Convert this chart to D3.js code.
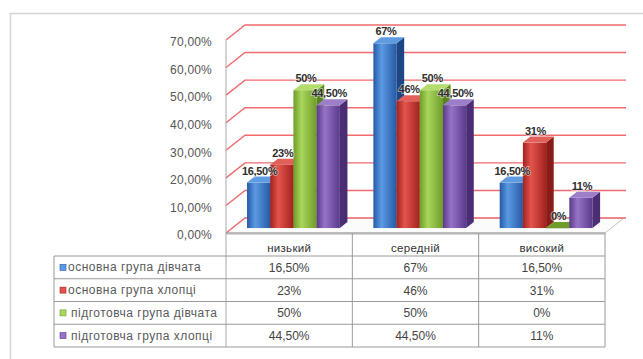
<!DOCTYPE html>
<html>
<head>
<meta charset="utf-8">
<script src="https://cdn.jsdelivr.net/npm/d3@7"></script>
<style>
  html, body { margin: 0; padding: 0; background: #ffffff; }
  svg { display: block; }
  text { font-family: "Liberation Sans", Arial, sans-serif; }
</style>
</head>
<body>
<svg id="chart" width="643" height="359"></svg>
<script>
// Levels of the scale (categories) and the four groups (series)
const categories = ["низький", "середній", "високий"];
const seriesNames = [
  "основна група дівчата",
  "основна група хлопці",
  "підготовча група дівчата",
  "підготовча група хлопці"
];
// percentage per group, in category order
const girlsMain = [16.5, 67, 16.5];
const boysMain  = [23, 46, 31];
const girlsPrep = [50, 50, 0];
const boysPrep  = [44.5, 44.5, 11];
const seriesValues = [girlsMain, boysMain, girlsPrep, boysPrep];
const axisTicks = [0, 10, 20, 30, 40, 50, 60, 70];

// face colours: [front dark, front light, top, side]
const palette = [
  ["#2659a6", "#5b9ae4", "#5f9be0", "#1d4685"],
  ["#a3221e", "#e2544c", "#e2605a", "#8a1c18"],
  ["#6f9c28", "#a9d75c", "#b4dc6c", "#5b8420"],
  ["#5a3a8a", "#9673c6", "#9d7ec8", "#4a2d75"]
];

const svg = d3.select("#chart");
const defs = svg.append("defs");
palette.forEach((c, i) => {
  const g = defs.append("linearGradient").attr("id", "front" + i)
    .attr("x1", "0%").attr("x2", "100%").attr("y1", "0%").attr("y2", "0%");
  g.append("stop").attr("offset", "0%").attr("stop-color", c[0]);
  g.append("stop").attr("offset", "35%").attr("stop-color", c[1]);
  g.append("stop").attr("offset", "100%").attr("stop-color", c[0]);
});

// outer chart frame
svg.append("rect").attr("x", 10.5).attr("y", 13.5).attr("width", 640).attr("height", 352)
  .attr("fill", "#ffffff").attr("stroke", "#d4d4d4").attr("stroke-width", 1.5);

// plot geometry (front plane) and depth vector
const plotLeft = 226, plotRight = 605;
const depthX = 19, depthY = -15;
const proj = (x, y, d) => [x + depthX * d, y + depthY * d];

const y = d3.scaleLinear().domain([0, 70]).range([233, 40]);
const x = d3.scaleBand().domain(categories).range([plotLeft, plotRight]).paddingInner(0).paddingOuter(0);
const barW = 23.2;
const xs = d3.scaleBand().domain(d3.range(seriesNames.length))
  .range([0, barW * seriesNames.length]).padding(0);
const barOffset = (x.bandwidth() - barW * seriesNames.length) / 2 - 2;
const d0 = 0.33, d1 = 0.73;

const pct = v => (v % 1 === 0 ? v + "%" : v.toFixed(2).replace(".", ",") + "%");
const locale = d3.formatLocale({ decimal: ",", thousands: " ", grouping: [3], currency: ["", ""] });
const axisFmt = locale.format(".2%");

// floor
const floor = svg.append("g");
const fl = [proj(plotLeft, y(0), 0), proj(plotRight, y(0), 0), proj(plotRight, y(0), 1), proj(plotLeft, y(0), 1)];
floor.append("polygon").attr("points", [[fl[0][0], fl[0][1] + 2], [fl[1][0], fl[1][1] + 2], fl[1], fl[0]].join(" "))
  .attr("fill", "#d8d8d8");
floor.append("polygon").attr("points", fl.join(" "))
  .attr("fill", "#fbfbfb").attr("stroke", "#c4c4c4").attr("stroke-width", 1);

// gridlines on back wall and left side wall
const grid = svg.append("g").attr("stroke", "#f06a6e").attr("stroke-width", 1.4).attr("fill", "none");
axisTicks.forEach(t => {
  const a = proj(plotLeft, y(t), 0), b = proj(plotLeft, y(t), 1), c = proj(plotRight, y(t), 1);
  grid.append("polyline").attr("points", [a, b, [c[0] + 2, c[1]]].join(" "));
});

// left front edge
svg.append("line").attr("x1", plotLeft).attr("x2", plotLeft).attr("y1", y(70)).attr("y2", 347)
  .attr("stroke", "#a8a8a8").attr("stroke-width", 1);

// value axis labels
const axis = svg.append("g").attr("transform", "translate(212,2)")
  .call(d3.axisLeft(y).tickValues(axisTicks).tickFormat(v => axisFmt(v / 100)).tickSize(0).tickPadding(0));
axis.select(".domain").remove();
axis.selectAll("text").attr("font-size", 12).attr("fill", "#555555").attr("letter-spacing", 0.2)
  .attr("font-family", "'Liberation Sans', Arial, sans-serif");

// 3D bars
const bars = svg.append("g");
categories.forEach((cat, ci) => {
  seriesValues.forEach((vals, si) => {
    const v = vals[ci];
    const bx = x(cat) + barOffset + xs(si);
    const yt = y(v), yb = y(0);
    const c = palette[si];
    const g = bars.append("g");
    // front face
    const f0 = proj(bx, yt, d0);
    g.append("rect").attr("x", f0[0]).attr("y", f0[1] - (v === 0 ? 1 : 0)).attr("width", barW)
      .attr("height", Math.max(yb - yt, 1.2)).attr("fill", v === 0 ? c[3] : `url(#front${si})`);
    // side face
    g.append("polygon").attr("points", [proj(bx + barW, yt, d0), proj(bx + barW, yb, d0),
      proj(bx + barW, yb, d1), proj(bx + barW, yt, d1)].join(" ")).attr("fill", c[3]);
    // top face
    g.append("polygon").attr("points", [proj(bx, yt, d0), proj(bx + barW, yt, d0),
      proj(bx + barW, yt, d1), proj(bx, yt, d1)].join(" ")).attr("fill", v === 0 ? c[0] : c[2]);
  });
});

// data labels
const labels = svg.append("g");
categories.forEach((cat, ci) => {
  seriesValues.forEach((vals, si) => {
    const v = vals[ci];
    const bx = x(cat) + barOffset + xs(si);
    const p = proj(bx + barW / 2, y(v), d0);
    labels.append("text").attr("x", p[0] + 1).attr("y", p[1] - 8)
      .attr("text-anchor", "middle").attr("font-size", 11).attr("font-weight", "bold")
      .attr("fill", "#2e2e2e").attr("letter-spacing", -0.3)
      .style("paint-order", "stroke").attr("stroke", "rgba(255,255,255,0.6)").attr("stroke-width", 1.5)
      .text(pct(v));
  });
});

// data table
const table = svg.append("g");
const tableLeft = 54, headTop = y(0), rowTop = 256, rowH = 22.75;
const lineCol = "#9a9a9a";
table.append("line").attr("x1", plotLeft).attr("x2", plotRight).attr("y1", headTop).attr("y2", headTop)
  .attr("stroke", lineCol);
d3.range(seriesNames.length + 1).forEach(r => {
  const yy = rowTop + r * rowH;
  table.append("line").attr("x1", tableLeft).attr("x2", plotRight).attr("y1", yy).attr("y2", yy)
    .attr("stroke", lineCol);
});
table.append("line").attr("x1", tableLeft).attr("x2", tableLeft).attr("y1", rowTop)
  .attr("y2", rowTop + rowH * seriesNames.length).attr("stroke", lineCol);
categories.forEach(cat => {
  const xr = x(cat) + x.bandwidth();
  table.append("line").attr("x1", xr).attr("x2", xr).attr("y1", headTop)
    .attr("y2", rowTop + rowH * seriesNames.length).attr("stroke", lineCol);
  table.append("text").attr("x", x(cat) + x.bandwidth() / 2).attr("y", 252)
    .attr("text-anchor", "middle").attr("font-size", 11.5).attr("fill", "#333333")
    .attr("letter-spacing", 0.3).text(cat);
});
seriesNames.forEach((name, si) => {
  const cy = rowTop + si * rowH + rowH / 2;
  table.append("rect").attr("x", 60).attr("y", cy - 3).attr("width", 6).attr("height", 6)
    .attr("fill", palette[si][1]).attr("stroke", palette[si][0]).attr("stroke-width", 0.6);
  table.append("text").attr("x", si < 2 ? 68 : 71).attr("y", cy + 4).attr("font-size", 12)
    .attr("fill", "#5a5a5a").attr("letter-spacing", 0.5).text(name);
  categories.forEach((cat, ci) => {
    table.append("text").attr("x", x(cat) + x.bandwidth() / 2).attr("y", cy + 4.5)
      .attr("text-anchor", "middle").attr("font-size", 12).attr("fill", "#444444")
      .text(pct(seriesValues[si][ci]));
  });
});
</script>
</body>
</html>
